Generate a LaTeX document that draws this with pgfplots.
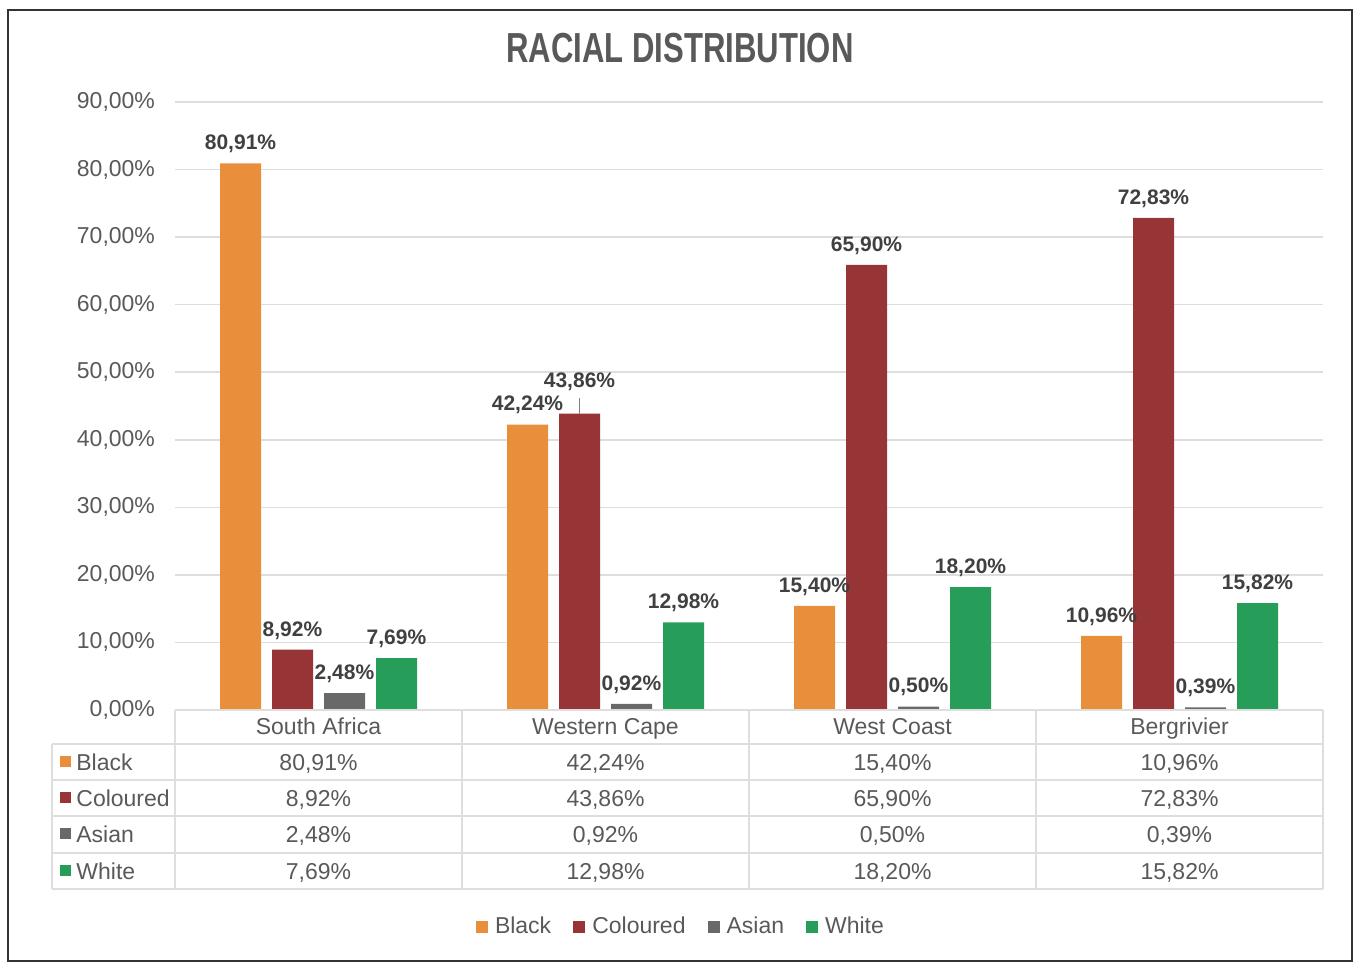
\documentclass[border=0pt]{standalone}
\usepackage{fontspec}
\setmainfont{Liberation Sans}
\usepackage{pgfplots}
\usepackage{pgfplotstable}
\pgfplotsset{compat=1.18}
\pgfkeys{/pgf/number format/assume math mode=true}
\definecolor{cBlack}{RGB}{233,142,58}
\definecolor{cCol}{RGB}{150,52,54}
\definecolor{cAsian}{RGB}{105,105,105}
\definecolor{cWhite}{RGB}{38,158,90}
\definecolor{txt}{RGB}{89,89,89}
\definecolor{lbl}{RGB}{64,64,64}
\definecolor{grd}{RGB}{222,222,222}
\pgfplotstableread{
x black coloured asian white cshift
0 80.91 8.92 2.48 7.69 0
1 42.24 43.86 0.92 12.98 6.5
2 15.40 65.90 0.50 18.20 0
3 10.96 72.83 0.39 15.82 0
}\data
\newcommand{\pct}[1]{\pgfmathprintnumber[fixed,fixed zerofill,precision=2,use comma]{#1}\%}
\begin{document}
\begin{tikzpicture}
\path[use as bounding box] (0,0) rectangle (678pt,481.5pt);
\begin{axis}[
  at={(87.5pt,126.5pt)}, anchor=south west,
  scale only axis, width=574pt, height=304pt,
  xmin=-0.5, xmax=3.5, ymin=0, ymax=90,
  xtick=\empty, ytick={0,10,...,90},
  ymajorgrids, grid style={grd, line width=0.8pt},
  axis x line*=bottom, axis y line*=left,
  x axis line style={grd, line width=0.8pt},
  y axis line style={draw=none},
  yticklabel={\pct{\tick}},
  yticklabel style={font=\fontsize{11.5}{13}\selectfont, color=txt, xshift=-6.5pt},
  major tick length=0pt,
  ybar, bar width=20.5pt,
  clip=false,
  nodes near coords={\pct{\pgfplotspointmeta}},
  every node near coord/.append style={font=\fontsize{10.5}{12}\selectfont\bfseries, color=lbl, inner sep=1pt, yshift=4pt},
  legend columns=4,
  legend style={at={(0.4416,-0.357)}, anchor=center, draw=none, fill=none,
    font=\fontsize{11.5}{13}\selectfont, text=txt,
    /tikz/every odd column/.append style={column sep=1.5pt},
    /tikz/every even column/.append style={column sep=9pt}},
  legend image code/.code={\fill[#1] (0pt,-3pt) rectangle (6pt,3pt);},
]
\addplot[fill=cBlack, draw=none, bar shift=-39pt] table[x=x, y=black] {\data};
\addplot[fill=cCol, draw=none, bar shift=-13pt,
  visualization depends on={\thisrow{cshift} \as \cs},
  every node near coord/.append style={yshift=\cs pt}] table[x=x, y=coloured] {\data};
\addplot[fill=cAsian, draw=none, bar shift=13pt] table[x=x, y=asian] {\data};
\addplot[fill=cWhite, draw=none, bar shift=39pt] table[x=x, y=white] {\data};
\legend{Black, Coloured, Asian, White}
\draw[gray, line width=0.6pt] ([xshift=-13pt]axis cs:1,43.86) -- ++(0pt,8pt);
\end{axis}
\begin{scope}[x=0.5pt, y=-0.5pt, yshift=481.5pt]
  % frame
  \draw[black!80, line width=1pt] (8,10) rectangle (1352,961);
  % title
  \node[text=txt] at (680,48) {\scalebox{0.74}[1]{\fontsize{21}{25}\selectfont\bfseries RACIAL DISTRIBUTION}};
  % table grid
  \draw[grd, line width=0.8pt] (175,710) -- (1323,710);
  \foreach \yy in {744,780,816,853,889} \draw[grd, line width=0.8pt] (52,\yy) -- (1323,\yy);
  \draw[grd, line width=0.8pt] (52,744) -- (52,889);
  \foreach \xx in {175,462,749,1036,1323} \draw[grd, line width=0.8pt] (\xx,710) -- (\xx,889);
  % header
  \foreach \xx/\nm in {318.5/South Africa,605.5/Western Cape,892.5/West Coast,1179.5/Bergrivier}
    \node[anchor=base, inner sep=0pt, text=txt, font=\fontsize{11.5}{13}\selectfont] at (\xx,735) {\nm};
  % rows
  \foreach \col/\yy/\nm/\cc in {black/771/Black/cBlack, coloured/807/Coloured/cCol, asian/843/Asian/cAsian, white/880/White/cWhite}{
    \fill[\cc] (60,{\yy-15}) rectangle (71,{\yy-4});
    \node[anchor=base west, inner sep=0pt, text=txt, font=\fontsize{11.5}{13}\selectfont] at (76,\yy) {\nm};
    \foreach \i/\xx in {0/318.5,1/605.5,2/892.5,3/1179.5}{
      \pgfplotstablegetelem{\i}{\col}\of\data
      \node[anchor=base, inner sep=0pt, text=txt, font=\fontsize{11.5}{13}\selectfont] at (\xx,\yy) {\pct{\pgfplotsretval}};
    }
  }
\end{scope}
\end{tikzpicture}
\end{document}
